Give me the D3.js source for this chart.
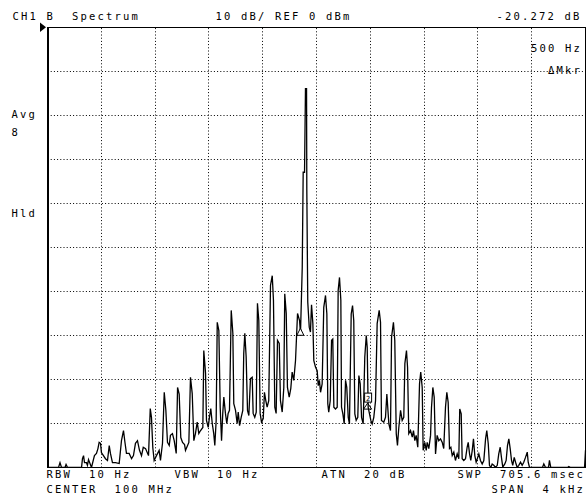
<!DOCTYPE html>
<html><head><meta charset="utf-8">
<script src="https://cdn.jsdelivr.net/npm/d3@7/dist/d3.min.js"></script>
<style>
html,body{margin:0;padding:0;background:#fff;}
svg{display:block;}
text.lbl{font-family:"DejaVu Sans Mono",monospace;font-size:10.5px;letter-spacing:2.18px;white-space:pre;fill:#000;}
</style></head><body>
<svg id="c" width="587" height="495"></svg>
<script>
// ---------- data ----------
const spanHz = [-2000, 2000];            // CENTER 100 MHz, SPAN 4 kHz (offset from center)
const refLevelDbm = [-100, 0];           // REF 0 dBm, 10 dB/div
const gridFreqHz = [-2000,-1600,-1200,-800,-400,0,400,800,1200,1600,2000];
const gridLevelDbm = [0,-10,-20,-30,-40,-50,-60,-70,-80,-90,-100];

const traceFreqHz = [
-2000,-1918,-1907,-1896,-1870,-1862,-1851,-1747,-1740,-1732,-1725,-1710,-1703,-1695,-1673,-1651,-1636,-1625,-1616,-1606,
-1599,-1584,-1569,-1554,-1541,-1532,-1517,-1494,-1467,-1450,-1435,-1425,-1413,-1393,-1375,-1361,-1346,-1331,-1316,-1301,
-1288,-1271,-1249,-1236,-1227,-1217,-1207,-1190,-1170,-1160,-1145,-1132,-1120,-1108,-1095,-1086,-1071,-1058,-1043,-1033,
-1021,-1009,-996,-981,-974,-949,-937,-924,-912,-900,-887,-875,-862,-845,-838,-825,-818,-805,-796,-786,
-775,-764,-756,-746,-738,-726,-716,-706,-697,-689,-677,-667,-657,-647,-634,-622,-615,-602,-590,-582,
-572,-560,-548,-541,-533,-523,-513,-503,-491,-478,-471,-459,-448,-439,-429,-419,-409,-396,-387,-377,
-367,-355,-342,-329,-320,-310,-300,-290,-277,-268,-255,-243,-236,-225,-216,-203,-191,-181,-169,-156,
-141,-126,-119,-106,-99,-89,-82,-74,-72,-65,-54,-45,-37,-27,-20,-7,5,13,22,30,
42,54,67,77,84,91,102,112,121,129,141,154,161,171,181,186,196,206,216,225,
236,245,258,268,277,285,295,307,315,325,335,347,359,370,377,384,394,404,414,426,
439,451,466,476,483,500,513,523,538,550,558,572,582,593,602,612,625,637,649,657,
669,677,686,699,712,721,731,741,753,766,775,786,793,805,816,823,835,848,855,865,
875,885,897,909,922,935,946,959,969,979,989,999,1009,1021,1033,1046,1058,1065,1076,1083,
1095,1108,1120,1128,1138,1147,1158,1167,1177,1187,1199,1207,1219,1232,1244,1257,1266,1277,1286,1296,
1306,1318,1331,1344,1355,1366,1375,1385,1400,1410,1420,1430,1440,1450,1459,1470,1480,1492,1504,1517,
1529,1541,1554,1567,1574,1584,1680,1690,1703,1725,1732,1742,1866,1876,1888,1993,2000
];
const traceLevelDbm = [
-100,-100,-98.9,-100,-100,-99.3,-100,-100,-98.0,-97.3,-98.9,-98.9,-99.5,-98.2,-100,-97.3,-96.8,-95.7,-94.3,-94.5,
-96.6,-97.3,-98.0,-98.4,-95.0,-96.8,-98.9,-98.9,-99.1,-93.9,-91.6,-94.1,-96.8,-96.8,-98.0,-97.3,-94.5,-93.9,-96.1,-97.3,
-95.4,-95.7,-97.3,-86.6,-88.6,-95.5,-98.4,-97.3,-96.1,-98.4,-94.5,-82.9,-87.0,-94.3,-95.0,-92.7,-92.3,-93.9,-96.8,-81.8,
-83.3,-93.2,-94.3,-94.8,-96.1,-94.3,-79.5,-83.2,-93.9,-92.3,-89.7,-92.3,-91.6,-90.9,-73.4,-78.6,-89.3,-90.9,-88.6,-86.6,
-90.0,-92.3,-95.0,-89.3,-67.0,-68.9,-86.3,-93.9,-87.7,-84.0,-87.7,-90.0,-87.7,-87.0,-64.3,-69.5,-85.5,-87.0,-90.0,-87.4,
-90.5,-88.6,-87.0,-74.1,-69.5,-74.9,-87.0,-88.2,-79.8,-79.5,-87.7,-88.6,-87.4,-62.7,-66.6,-87.7,-89.7,-88.9,-82.9,-84.8,
-86.3,-84.8,-58.6,-56.4,-62.0,-86.3,-87.7,-71.1,-71.8,-84.8,-87.4,-81.8,-60.5,-65.0,-81.8,-84.0,-82.0,-78.3,-80.2,-75.7,
-65.0,-66.6,-69.5,-54.5,-32.9,-32.9,-13.9,-13.9,-37.0,-62.4,-68.1,-69.2,-63.0,-67.3,-75.7,-77.2,-78.0,-81.4,-80.2,-82.9,
-81.0,-63.6,-60.9,-65.1,-85.5,-87.4,-84.8,-71.1,-70.8,-86.3,-86.7,-86.3,-59.8,-56.8,-62.0,-86.3,-87.8,-90.1,-80.2,-81.8,
-88.6,-90.1,-65.1,-63.2,-66.6,-87.8,-89.3,-88.6,-79.1,-81.0,-88.6,-90.1,-74.9,-70.0,-72.7,-86.3,-87.8,-89.3,-90.1,-88.6,
-84.8,-67.3,-64.3,-67.0,-89.3,-89.7,-88.6,-83.3,-90.1,-91.6,-70.4,-67.0,-71.1,-92.3,-95.0,-90.9,-87.0,-89.3,-88.6,-76.4,
-73.4,-77.2,-92.3,-91.6,-93.1,-91.6,-93.9,-92.7,-95.4,-81.0,-78.3,-81.8,-96.1,-94.3,-96.1,-94.3,-95.7,-92.7,-86.3,-81.8,
-84.0,-96.9,-92.7,-93.9,-93.5,-94.3,-95.7,-86.3,-82.9,-85.2,-95.7,-95.4,-97.3,-96.5,-98.4,-96.9,-98.0,-86.7,-87.8,-98.0,
-98.4,-98.0,-95.4,-94.3,-96.9,-98.4,-96.1,-93.5,-97.3,-98.8,-97.7,-96.9,-98.4,-99.2,-98.4,-93.5,-91.6,-94.6,-99.5,-100,
-99.2,-99.5,-100,-99.5,-96.9,-95.4,-97.7,-99.9,-99.2,-98.4,-95.0,-93.5,-95.7,-98.4,-99.5,-97.7,-98.8,-100,-99.5,-98.8,
-99.5,-98.8,-97.7,-96.5,-98.8,-100,-100,-99.2,-100,-100,-98.4,-100,-100,-99.8,-100,-100,-96.1
];

const markerFreqHz = [-120, 380];
const markerLevelDbm = [-69.5, -86.5];
const markerNames = ["1", "2"];

const headerTexts = ["CH1 B  Spectrum", "10 dB/ REF 0 dBm", "-20.272 dB"];
const markerTexts = ["500 Hz", "\u0394Mkr"];
const sideTexts = ["Avg", "8", "Hld"];
const footerTexts = ["RBW  10 Hz", "VBW  10 Hz", "ATN  20 dB", "SWP  705.6 msec", "CENTER  100 MHz", "SPAN  4 kHz"];

// ---------- layout ----------
const L = 47.5, R = 585.5, T = 27.5, B = 467.5;
const svg = d3.select("#c");
svg.append("rect").attr("width",587).attr("height",495).attr("fill","#fff");

const x = d3.scaleLinear().domain(spanHz).range([L, R]);
const y = d3.scaleLinear().domain(refLevelDbm).range([B, T]).clamp(true);
const snap = v => Math.round(v - 0.5) + 0.5;

// grid (dotted)
const vAxis = d3.axisBottom(x).tickValues(gridFreqHz.slice(1, -1)).tickSize(-(B - T)).tickFormat("");
const gv = svg.append("g").attr("transform", `translate(0,${B})`).call(vAxis);
gv.select(".domain").remove();
gv.selectAll(".tick").attr("transform", d => `translate(${snap(x(d))},0)`);
gv.selectAll(".tick line").attr("stroke","#000").attr("stroke-dasharray","1,2.2").attr("stroke-width",1);

const hAxis = d3.axisLeft(y).tickValues(gridLevelDbm.slice(1, -1)).tickSize(-(R - L)).tickFormat("");
const gh = svg.append("g").attr("transform", `translate(${L},0)`).call(hAxis);
gh.select(".domain").remove();
gh.selectAll(".tick").attr("transform", d => `translate(0,${snap(y(d))})`);
gh.selectAll(".tick line").attr("stroke","#000").attr("stroke-dasharray","1,2.2").attr("stroke-width",1);

// frame
svg.append("rect").attr("x",L).attr("y",T).attr("width",R-L).attr("height",B-T)
  .attr("fill","none").attr("stroke","#000").attr("stroke-width",1);
svg.append("line").attr("x1",L+1).attr("x2",L+1).attr("y1",T).attr("y2",B).attr("stroke","#000");

// reference level arrow
svg.append("path").attr("d", `M40,${T-5} L40,${T+4.5} L46,${T-0.2} Z`).attr("fill","#000");

// trace
svg.append("clipPath").attr("id","clip").append("rect").attr("x",L).attr("y",T-1).attr("width",R-L+1).attr("height",B-T+1);
const idx = d3.range(traceFreqHz.length);
const line = d3.line().x(i => x(traceFreqHz[i])).y(i => y(traceLevelDbm[i]));
svg.append("path").attr("d", line(idx)).attr("fill","none").attr("stroke","#000")
  .attr("stroke-width",1.3).attr("stroke-linejoin","miter").attr("clip-path","url(#clip)");

// markers
{
  const mx = x(markerFreqHz[0]), my = y(markerLevelDbm[0]);
  svg.append("path").attr("d", `M${mx-3.5},${my+2} L${mx+3.5},${my+2} L${mx},${my-5} Z`)
    .attr("fill","#fff").attr("stroke","#000").attr("stroke-width",1);
  const nx = x(markerFreqHz[1]), ny = y(markerLevelDbm[1]);
  svg.append("rect").attr("x",nx-3).attr("y",ny-15).attr("width",7).attr("height",9)
    .attr("fill","#fff").attr("stroke","#000").attr("stroke-width",1);
  svg.append("text").attr("x",nx+0.5).attr("y",ny-7.5).attr("text-anchor","middle")
    .style("font-family","DejaVu Sans Mono").style("font-size","7px").text(markerNames[1]);
  svg.append("path").attr("d", `M${nx-4},${ny+1} L${nx+4},${ny+1} L${nx},${ny-5} Z`)
    .attr("fill","none").attr("stroke","#000").attr("stroke-width",1);
}

// texts
const addText = (s, tx, ty) => svg.append("text").attr("class","lbl").attr("x",tx).attr("y",ty).text(s);
addText(headerTexts[0], 12.5, 20);
addText(headerTexts[1], 215.5, 20);
addText(headerTexts[2], 496.5, 20);
addText(markerTexts[0], 531, 51.5);
addText(markerTexts[1], 548, 74);
addText(sideTexts[0], 11.5, 118);
addText(sideTexts[1], 11.5, 136);
addText(sideTexts[2], 11.5, 217);
addText(footerTexts[0], 46.5, 477.5);
addText(footerTexts[1], 174.5, 477.5);
addText(footerTexts[2], 321.5, 477.5);
addText(footerTexts[3], 457.5, 477.5);
addText(footerTexts[4], 46.5, 493);
addText(footerTexts[5], 491.5, 493);
</script>
</body></html>
